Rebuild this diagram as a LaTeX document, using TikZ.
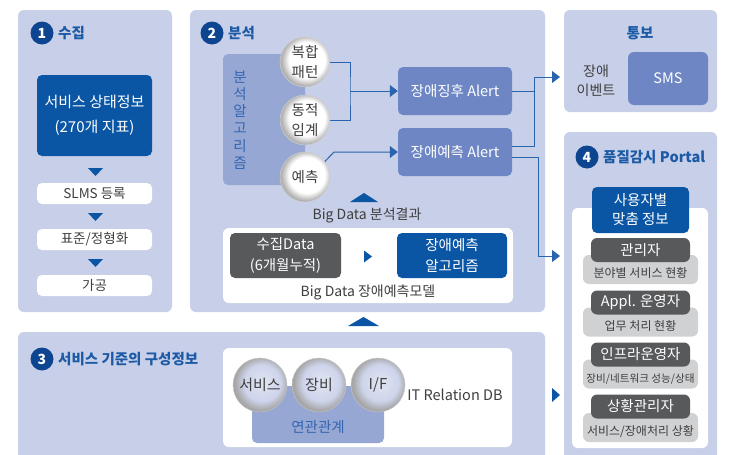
\documentclass[tikz,border=0pt]{standalone}
\usepackage{fontspec}
\setmainfont{Noto Sans CJK KR}
\usetikzlibrary{shapes,arrows.meta}

\definecolor{panelbg}{HTML}{C8CFE8}
\definecolor{algobg}{HTML}{97A7D4}
\definecolor{alertbg}{HTML}{6E87C4}
\definecolor{darkblue}{HTML}{0A56A5}
\definecolor{darkgray}{HTML}{58595B}
\definecolor{lightgray}{HTML}{D0D1D3}
\definecolor{titleblue}{HTML}{1D5AA6}
\definecolor{badgeblue}{HTML}{0D4590}
\definecolor{linkblue}{HTML}{2B64AE}
\definecolor{txtgray}{HTML}{3F3F3F}
\definecolor{algotext}{HTML}{3565B0}

\pgfdeclareradialshading{whiteball}{\pgfpoint{3bp}{3bp}}{color(0bp)=(white); color(18bp)=(white); color(25bp)=(black!30); color(50bp)=(black!30)}
\pgfdeclareradialshading{lavball}{\pgfpoint{3bp}{3bp}}{color(0bp)=(panelbg!55!white); color(17bp)=(panelbg!90!white); color(25bp)=(black!35); color(50bp)=(black!35)}

\tikzset{
    panel/.style={fill=panelbg, rounded corners=6pt},
    wpanel/.style={fill=white, rounded corners=6pt},
    badge/.style={circle, fill=badgeblue, text=white, inner sep=0pt, minimum size=23pt,
        font=\bfseries\fontsize{14}{14}\selectfont},
    ptitle/.style={anchor=west, inner sep=0pt, text=titleblue, font=\bfseries\fontsize{14.5}{15}\selectfont},
    txt/.style={text=txtgray, align=center, inner sep=0pt, font=\fontsize{14}{19}\selectfont},
    stepbox/.style={fill=white, rounded corners=5pt, text=txtgray, minimum width=115pt, minimum height=21pt,
        inner sep=0pt, font=\fontsize{13.5}{14}\selectfont},
    bluebox/.style={fill=darkblue, rounded corners=5pt, text=white, align=center, inner sep=0pt,
        font=\fontsize{14.5}{21}\selectfont},
    graybox/.style={fill=darkgray, rounded corners=5pt, text=white, align=center, inner sep=0pt,
        font=\fontsize{14.5}{21}\selectfont},
    alertbox/.style={fill=alertbg, rounded corners=5pt, text=white, minimum width=114pt, minimum height=48pt,
        inner sep=0pt, font=\fontsize{14.5}{15}\selectfont},
    algocircle/.style={circle, shading=whiteball, draw=black!18, minimum size=50pt, inner sep=0pt,
        text=txtgray, align=center, font=\fontsize{14.5}{19.5}\selectfont},
    relcircle/.style={circle, shading=lavball, draw=black!22, minimum size=54pt, inner sep=0pt,
        text=txtgray, font=\fontsize{15}{15}\selectfont},
    rolehead/.style={fill=darkgray, rounded corners=6pt, text=white, minimum width=99pt, minimum height=24pt,
        inner sep=0pt, font=\fontsize{14.5}{15}\selectfont},
    roleduty/.style={fill=lightgray, rounded corners=6pt, text=txtgray, minimum width=115pt, minimum height=29pt,
        inner sep=0pt, text height=17pt, text depth=1pt, font=\fontsize{12}{12}\selectfont},
    link/.style={draw=linkblue, line width=1pt},
    arr/.style={-{Triangle[length=8pt,width=12pt]}},
    tri/.style={fill=darkblue}
}

\begin{document}
\begin{tikzpicture}[x=1pt, y=-1pt]
        \clip (0,0) rectangle (750,455);

        % Panels
        \fill [panel] (18,10) rectangle (172,312);
        \fill [panel] (190,10) rectangle (545,312);
        \fill [panel] (564,10) rectangle (717,112);
        \fill [panel] (564,132) rectangle (717,470);
        \fill [panel] (18,332) rectangle (545,470);

        % 1 수집
        \node [badge] (b1) at (42,33) {1};
        \node [ptitle] (t1) at (58,33) {수집};
        \node [bluebox, minimum width=115pt, minimum height=81pt, font=\fontsize{15}{25}\selectfont] (status) at (94.5,115.5)
                {서비스 상태정보\\(270개 지표)};
        \node [stepbox] (slms) at (94.5,193.5) {SLMS 등록};
        \node [stepbox] (norm) at (94.5,239.5) {표준/정형화};
        \node [stepbox] (proc) at (94.5,285.5) {가공};
        \fill [tri] (88,168) -- (103,168) -- (95.5,176) -- cycle;
        \fill [tri] (88,213) -- (103,213) -- (95.5,221) -- cycle;
        \fill [tri] (88,259) -- (103,259) -- (95.5,267) -- cycle;

        % 2 분석
        \node [badge] (b2) at (212,33) {2};
        \node [ptitle] (t2) at (228,33) {분석};
        \fill [algobg, rounded corners=5pt] (223,54) rectangle (305,185);
        \node [text=algotext, align=center, inner sep=0pt, font=\fontsize{14.5}{17.3}\selectfont] (algo) at (240,120)
                {분\\석\\알\\고\\리\\즘};
        \node [algocircle] (cpat) at (305,62) {복합\\패턴};
        \node [algocircle] (dthr) at (305,120) {동적\\임계};
        \node [algocircle] (pred) at (305,177) {예측};
        \node [alertbox] (sign) at (455,91) {장애징후 Alert};
        \node [alertbox] (fcast) at (455,152) {장애예측 Alert};
        \coordinate (jc) at (350,91);
        \coordinate (pk) at (334,152);
        \draw [link] (cpat.east) -| (jc) |- (dthr.east);
        \draw [link, arr] (jc) -- (sign.west);
        \draw [link, arr] (pred.38) -- (pk) -- (fcast.west);
        \fill [tri] (350,202) -- (378,202) -- (364,193) -- cycle;
        \node [txt] (result) at (367,215) {Big Data 분석결과};
        \fill [wpanel] (223,228) rectangle (513,303);
        \node [graybox, minimum width=111pt, minimum height=45pt] (gather) at (285.5,255.5) {수집Data\\(6개월누적)};
        \fill [tri] (364,250.5) -- (364,262.5) -- (372,256.5) -- cycle;
        \node [bluebox, minimum width=110pt, minimum height=45pt] (model) at (452,255.5) {장애예측\\알고리즘};
        \node [txt] (bdmodel) at (368,292) {Big Data 장애예측모델};

        % 통보
        \node [ptitle, anchor=center] (t5) at (640,33) {통보};
        \node [txt] (event) at (596,80.5) {장애\\이벤트};
        \node [fill=alertbg, rounded corners=6pt, text=white, minimum width=80pt, minimum height=53pt,
                inner sep=0pt, font=\fontsize{14.5}{15}\selectfont] (sms) at (668,78.5) {SMS};

        % Alert -> 통보 / Portal
        \coordinate (ntop) at (534,77);
        \coordinate (nend) at (560,77);
        \coordinate (pturn) at (538,256);
        \coordinate (pend) at (560,256);
        \draw [link] (sign.east) -| (ntop);
        \draw [link, arr] ([yshift=6pt]fcast.east) -| (ntop) -- (nend);
        \draw [link, arr] ([yshift=-5pt]fcast.east) -| (pturn) -- (pend);

        % 4 품질감시 Portal
        \node [badge] (b4) at (587,157) {4};
        \node [ptitle] (t4) at (603,157) {품질감시 Portal};
        \fill [wpanel] (572,208) rectangle (708,448);
        \node [bluebox, minimum width=97pt, minimum height=46pt, font=\fontsize{14.5}{19}\selectfont] (user) at (640.5,210)
                {사용자별\\맞춤 정보};
        \node [roleduty] (duty1) at (640.5,269.5) {분야별 서비스 현황};
        \node [rolehead] (role1) at (640.5,250) {관리자};
        \node [roleduty] (duty2) at (640.5,322) {업무 처리 현황};
        \node [rolehead] (role2) at (640.5,302.5) {Appl. 운영자};
        \node [roleduty, font=\fontsize{10.6}{12}\selectfont] (duty3) at (640.5,374) {장비/네트워크 성능/상태};
        \node [rolehead] (role3) at (640.5,354.5) {인프라운영자};
        \node [roleduty] (duty4) at (640.5,427.5) {서비스/장애처리 상황};
        \node [rolehead] (role4) at (640.5,406.5) {상황관리자};

        % 3 서비스 기준의 구성정보
        \fill [tri] (348,326) -- (379,326) -- (363.5,317) -- cycle;
        \node [badge] (b3) at (42,359) {3};
        \node [ptitle] (t3) at (58,359) {서비스 기준의 구성정보};
        \fill [wpanel] (223,348) rectangle (512,447);
        \node [fill=algobg, rounded corners=5pt, text=algotext, minimum width=132pt, minimum height=57pt,
                inner sep=0pt, text height=36pt, text depth=1pt, font=\fontsize{14.5}{15}\selectfont] (rel) at (318,414.5) {연관관계};
        \node [relcircle] (svc) at (260,385) {서비스};
        \node [relcircle] (equip) at (319,385) {장비};
        \node [relcircle] (intf) at (378,385) {I/F};
        \node [txt, font=\fontsize{14.5}{15}\selectfont] (itdb) at (455,395) {IT Relation DB};
        \fill [tri] (552,388) -- (552,402) -- (560,395) -- cycle;
\end{tikzpicture}
\end{document}
